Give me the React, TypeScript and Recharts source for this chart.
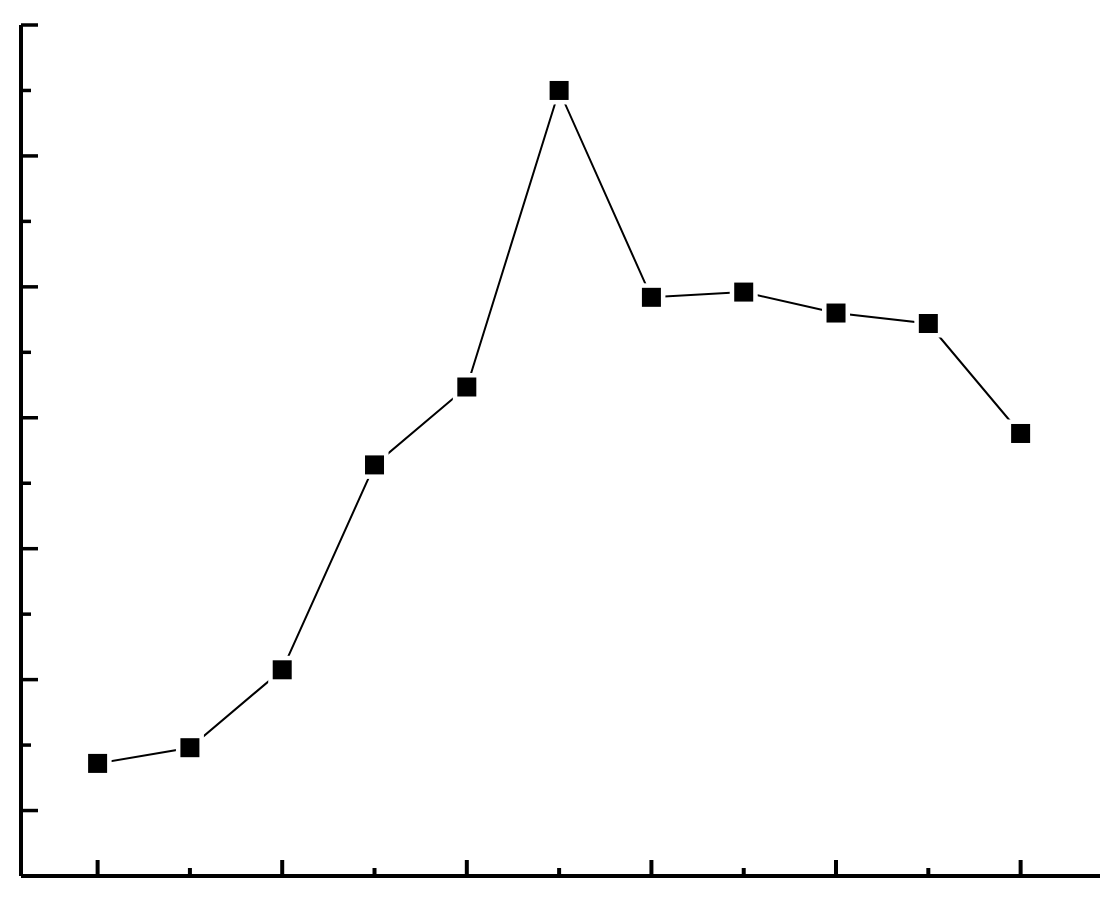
import { Line, LineChart, XAxis, YAxis } from 'recharts';

const positions = [0, 1, 2, 3, 4, 5, 6, 7, 8, 9, 10];
const values = [1.72, 1.96, 3.15, 6.28, 7.47, 12.0, 8.84, 8.92, 8.6, 8.44, 6.76];
const xTicks = [0, 1, 2, 3, 4, 5, 6, 7, 8, 9, 10];
const yTicks = [1, 2, 3, 4, 5, 6, 7, 8, 9, 10, 11, 12, 13];

const data = positions.map((x, i) => ({ x, v: values[i] }));

// ticks point into the plot; even x ticks and odd y ticks are the long ones
const XTick = ({ x, y, payload }: any) => {
  const major = Math.round(payload.value) % 2 === 0;
  return <line x1={x} y1={y} x2={x} y2={y - (major ? 16 : 8)} stroke="#000" strokeWidth={4} />;
};

const YTick = ({ x, y, payload }: any) => {
  const major = Math.round(payload.value) % 2 === 1;
  return <line x1={x} y1={y} x2={x + (major ? 17 : 10)} y2={y} stroke="#000" strokeWidth={3.5} />;
};

const SquareDot = ({ cx, cy }: any) => (
  <g>
    <rect x={cx - 14} y={cy - 14} width={28} height={28} fill="#fff" />
    <rect x={cx - 9.5} y={cy - 9.5} width={19} height={19} fill="#000" />
  </g>
);

export default function App() {
  return (
    <div style={{ position: 'absolute', left: 0, top: 0 }}>
      <LineChart
        width={1116}
        height={900}
        data={data}
        margin={{ top: 25, right: 16, bottom: 23, left: 20 }}
        style={{ background: '#fff' }}
      >
        <XAxis
          dataKey="x"
          type="number"
          domain={[-0.83, 10.86]}
          ticks={xTicks}
          interval={0}
          allowDataOverflow
          height={1}
          tickSize={0}
          tickMargin={0}
          tickLine={false}
          tick={XTick}
          axisLine={{ stroke: '#000', strokeWidth: 4 }}
        />
        <YAxis
          type="number"
          domain={[0, 13]}
          ticks={yTicks}
          interval={0}
          allowDataOverflow
          width={1}
          tickSize={0}
          tickMargin={0}
          tickLine={false}
          tick={YTick}
          axisLine={{ stroke: '#000', strokeWidth: 4 }}
        />
        <Line
          type="linear"
          dataKey="v"
          stroke="#000"
          strokeWidth={2}
          dot={SquareDot}
          activeDot={false}
          isAnimationActive={false}
        />
      </LineChart>
    </div>
  );
}
